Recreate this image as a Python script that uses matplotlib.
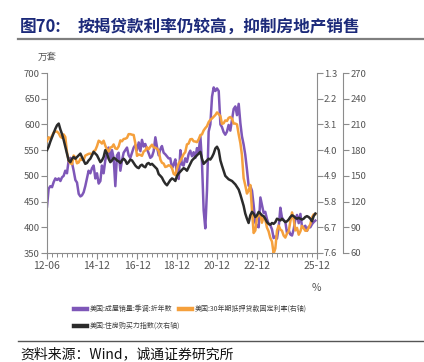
import matplotlib
matplotlib.use("Agg")
import matplotlib.pyplot as plt
import matplotlib.dates as mdates
from matplotlib.lines import Line2D
import pandas as pd
import numpy as np

plt.rcParams['font.family'] = ['Noto Sans CJK SC', 'DejaVu Sans']

# ---------------- data ----------------
start_month = '2012-06-01'
n_months = 162

# US existing home sales, SAAR (10k units)
sales = [440, 475, 480, 478, 488, 495, 492,
         495, 490, 497, 500, 510, 505, 530, 535, 525, 510, 492, 487,
         465, 460, 462, 468, 480, 495, 510, 505, 515, 520, 495, 505,
         485, 490, 520, 505, 530, 545, 555, 530, 550, 535, 480, 540,
         545, 510, 530, 545, 550, 555, 540, 535, 545, 555, 560, 550,
         565, 548, 570, 557, 562, 552, 544, 535, 538, 548, 575, 556,
         540, 552, 558, 545, 542, 538, 534, 534, 515, 522, 532, 500,
         494, 550, 522, 520, 534, 527, 542, 549, 538, 546, 535, 554,
         546, 577, 527, 433, 398, 472, 586, 600, 654, 672, 665, 670,
         665, 600, 595, 585, 580, 586, 599, 588, 610, 630, 635, 618,
         640, 602, 577, 561, 541, 512, 481, 480, 471, 443, 409, 402,
         400, 458, 444, 428, 430, 416, 407, 404, 396, 379, 382, 378,
         400, 438, 419, 414, 411, 389, 395, 386, 384, 396, 415, 424,
         408, 426, 402, 400, 403, 393, 401, 400, 406, 410, 413]

# 30Y fixed mortgage rate (%)
rate = [3.68, 3.55, 3.60, 3.50, 3.38, 3.35, 3.35,
        3.41, 3.53, 3.57, 3.45, 3.54, 4.07, 4.37, 4.46, 4.49, 4.19, 4.26, 4.46,
        4.43, 4.30, 4.34, 4.34, 4.19, 4.16, 4.13, 4.12, 4.16, 4.04, 4.00, 3.86,
        3.67, 3.71, 3.77, 3.67, 3.84, 3.98, 4.05, 3.91, 3.89, 3.80, 3.94, 3.96,
        3.87, 3.66, 3.69, 3.61, 3.60, 3.57, 3.44, 3.44, 3.46, 3.47, 3.77, 4.20,
        4.15, 4.17, 4.20, 4.05, 4.01, 3.90, 3.97, 3.88, 3.81, 3.90, 3.92, 3.95,
        4.03, 4.33, 4.44, 4.47, 4.59, 4.57, 4.53, 4.55, 4.63, 4.83, 4.87, 4.64,
        4.46, 4.37, 4.27, 4.14, 4.07, 3.80, 3.77, 3.62, 3.61, 3.69, 3.70, 3.72,
        3.62, 3.47, 3.45, 3.31, 3.23, 3.16, 3.02, 2.94, 2.89, 2.83, 2.77, 2.68,
        2.74, 2.81, 3.08, 3.06, 2.96, 2.98, 2.87, 2.84, 2.90, 3.07, 3.07, 3.10,
        3.45, 3.76, 4.17, 4.98, 5.23, 5.52, 5.41, 5.22, 6.11, 6.90, 6.81, 6.36,
        6.27, 6.26, 6.54, 6.34, 6.43, 6.71, 6.84, 7.07, 7.20, 7.62, 7.44, 6.82,
        6.64, 6.78, 6.82, 6.99, 7.06, 6.92, 6.85, 6.50, 6.18, 6.43, 6.81, 6.72,
        6.96, 6.84, 6.65, 6.73, 6.82, 6.82, 6.72, 6.59, 6.35, 6.25, 6.24]

# Housing affordability index
afford = [180, 184, 190, 195, 200, 205, 209,
          211, 204, 199, 192, 184, 176, 168, 166, 170, 172, 170, 172,
          174, 176, 172, 168, 164, 165, 168, 170, 174, 178, 176, 174,
          170, 166, 168, 172, 180, 176, 170, 166, 168, 171, 170, 168,
          167, 165, 168, 170, 168, 164, 166, 169, 168, 165, 162, 160,
          159, 162, 163, 161, 160, 164, 165, 163, 164, 162, 160, 158,
          152, 150, 148, 144, 141, 139, 142, 145, 147, 146, 144, 150,
          153, 155, 157, 159, 158, 156, 160, 164, 168, 170, 172, 174,
          176, 178, 170, 164, 166, 168, 170, 169, 172, 176, 182, 184,
          180, 168, 162, 156, 150, 148, 146, 145, 144, 142, 140, 137,
          134, 128, 122, 115, 106, 100, 95, 104, 108, 106, 102, 104,
          108, 106, 104, 103, 100, 96, 94, 93, 95, 94, 96, 100,
          99, 98, 100, 98, 96, 97, 99, 102, 104, 103, 101, 100,
          101, 100, 99, 100, 102, 103, 102, 100, 97, 103, 106]

x_tick_labels = ['12-06', '14-12', '16-12', '18-12', '20-12', '22-12', '25-12']
left_ticks = [350, 400, 450, 500, 550, 600, 650, 700]
rate_ticks = [1.3, 2.2, 3.1, 4.0, 4.9, 5.8, 6.7, 7.6]
afford_ticks = [60, 90, 120, 150, 180, 210, 240, 270]

legend_labels = ['美国:成屋销量:季调:折年数', '美国:30年期抵押贷款固定利率(右轴)',
                 '美国:住房购买力指数(次右轴)']
title_num = '图70:'
title_text = '按揭贷款利率仍较高，抑制房地产销售'
source_text = '资料来源：Wind，诚通证券研究所'

# ---------------- style ----------------
C_PURPLE = '#7E57B8'
C_ORANGE = '#F5A03C'
C_BLACK = '#2B2B2B'
C_SPINE = '#8C8C8C'
C_TICK = '#555555'
C_TITLE = '#1C2A7A'

dates = pd.date_range(start_month, periods=n_months, freq='MS')

fig = plt.figure(figsize=(4.24, 3.62), dpi=100)
W, H = 424, 362

def fx(px):
    return px / W

def fy(py):
    return 1 - py / H

ax1 = fig.add_axes([fx(47), fy(253), fx(317) - fx(47), fy(73) - fy(253)])
ax2 = ax1.twinx()
ax3 = ax1.twinx()
ax3.spines['right'].set_position(('outward', 19))

ax1.plot(dates, sales, color=C_PURPLE, lw=1.8, solid_joinstyle='round')
ax2.plot(dates, rate, color=C_ORANGE, lw=1.8, solid_joinstyle='round')
ax3.plot(dates, afford, color=C_BLACK, lw=1.8, solid_joinstyle='round')

ax1.set_ylim(350, 700)
ax1.set_yticks(left_ticks)
ax2.set_ylim(7.6, 1.3)
ax2.set_yticks(rate_ticks)
ax2.set_yticklabels([f'{t:.1f}' for t in rate_ticks])
ax3.set_ylim(60, 270)
ax3.set_yticks(afford_ticks)

ax1.set_xlim(pd.Timestamp('2012-06-01'), pd.Timestamp('2025-12-01'))
major_dates = [pd.Timestamp('20' + s[:2] + '-' + s[3:] + '-01') for s in x_tick_labels]
ax1.set_xticks(major_dates)
ax1.set_xticklabels(x_tick_labels)
ax1.xaxis.set_minor_locator(mdates.MonthLocator(bymonth=[3, 6, 9, 12]))

for a in (ax1, ax2, ax3):
    a.set_facecolor('none')
    a.spines['top'].set_visible(False)
    for s in a.spines.values():
        s.set_color(C_SPINE)
        s.set_linewidth(0.8)
ax1.spines['right'].set_visible(False)
ax2.spines['left'].set_visible(False)
ax2.spines['bottom'].set_visible(False)
ax3.spines['left'].set_visible(False)
ax3.spines['bottom'].set_visible(False)

ax1.tick_params(axis='y', direction='out', length=4, width=0.8, color=C_SPINE,
                labelsize=6.8, labelcolor=C_TICK, pad=1)
ax1.tick_params(axis='x', which='major', direction='out', length=4, width=0.8,
                color=C_SPINE, labelsize=7.5, labelcolor=C_TICK, pad=2)
ax1.tick_params(axis='x', which='minor', direction='out', length=3, width=0.7,
                color=C_SPINE)
for a in (ax2, ax3):
    a.tick_params(axis='y', direction='out', length=4, width=0.8, color=C_SPINE,
                  labelsize=6.8, labelcolor=C_TICK, pad=1)

# text
fig.text(fx(20), fy(27), title_num, fontsize=12, fontweight='bold', color=C_TITLE,
         va='center', ha='left')
fig.text(fx(78), fy(27), title_text, fontsize=12, fontweight='bold', color=C_TITLE,
         va='center', ha='left')
fig.add_artist(Line2D([fx(18), 1.0], [fy(39), fy(39)], color='#7F7F7F', lw=1.6))
fig.text(fx(38), fy(57), '万套', fontsize=6.8, color=C_TICK, va='center', ha='left')
fig.text(fx(316), fy(288), '%', fontsize=7.5, color=C_TICK, va='center', ha='center')

# legend
leg_items = [(74, 309, C_PURPLE, legend_labels[0]),
             (179, 309, C_ORANGE, legend_labels[1]),
             (74, 326, C_BLACK, legend_labels[2])]
for lx, ly, c, lab in leg_items:
    fig.add_artist(Line2D([fx(lx), fx(lx + 13)], [fy(ly), fy(ly)], color=c, lw=3.2))
    fig.text(fx(lx + 16), fy(ly), lab, fontsize=5.0, color='#404040',
             va='center', ha='left')

fig.add_artist(Line2D([fx(18), 1.0], [fy(341), fy(341)], color='#555555', lw=1.0))
fig.text(fx(20), fy(354), source_text, fontsize=10, color='#111111',
         va='center', ha='left')

fig.savefig('out.png', dpi=100)
